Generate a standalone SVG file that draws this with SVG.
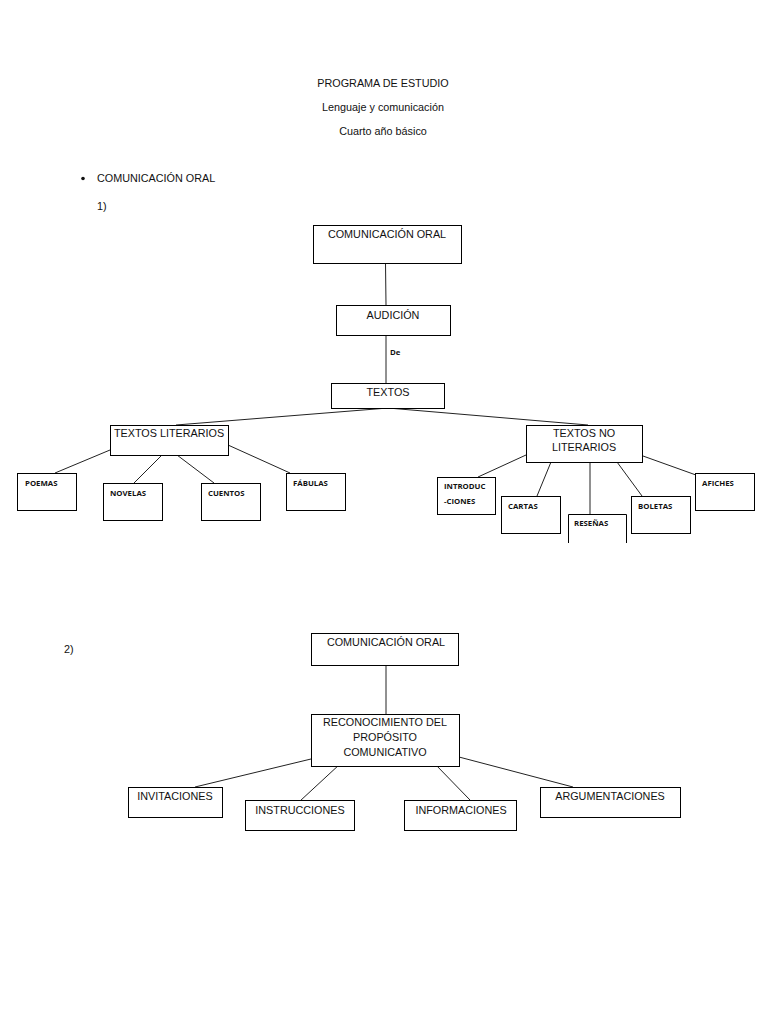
<svg xmlns="http://www.w3.org/2000/svg" width="768" height="1024" viewBox="0 0 768 1024">
<style>
.t{font-family:"Liberation Sans",Arial,sans-serif;font-size:10.8px;fill:#111}
.c{text-anchor:middle}
.s{font-family:"Open Sans","Liberation Sans",sans-serif;font-size:7.8px;font-weight:700;fill:#111}
.b{fill:#fff;stroke:#000;stroke-width:1}
.l{stroke:#222;stroke-width:1;fill:none}
</style>
<rect width="768" height="1024" fill="#fff"/>
<g id="header">
<text class="t c" x="383" y="87">PROGRAMA DE ESTUDIO</text>
<text class="t c" x="383" y="111">Lenguaje y comunicación</text>
<text class="t c" x="383" y="135">Cuarto año básico</text>
<circle cx="83" cy="178.5" r="1.8" fill="#111"/>
<text class="t" x="97" y="182">COMUNICACIÓN ORAL</text>
<text class="t" x="97" y="210">1)</text>
<text class="t" x="64" y="653">2)</text>
</g>
<g id="connectors">
<line class="l" x1="385.5" y1="263" x2="386" y2="305"/>
<line class="l" x1="386" y1="335" x2="386" y2="383"/>
<line class="l" x1="388" y1="408" x2="176" y2="425"/>
<line class="l" x1="388" y1="408" x2="588" y2="425"/>
<line class="l" x1="110" y1="450" x2="55" y2="473"/>
<line class="l" x1="162" y1="455" x2="134" y2="483"/>
<line class="l" x1="177" y1="455" x2="214" y2="483"/>
<line class="l" x1="228" y1="445" x2="290" y2="473"/>
<line class="l" x1="526" y1="455" x2="478" y2="477"/>
<line class="l" x1="551" y1="462" x2="537" y2="496"/>
<line class="l" x1="590" y1="462" x2="590" y2="514"/>
<line class="l" x1="617" y1="462" x2="642" y2="496"/>
<line class="l" x1="643" y1="456" x2="696" y2="475"/>
<line class="l" x1="386" y1="665" x2="386" y2="714"/>
<line class="l" x1="311" y1="759" x2="195" y2="787"/>
<line class="l" x1="340" y1="764" x2="300" y2="801"/>
<line class="l" x1="435" y1="764" x2="470" y2="800"/>
<line class="l" x1="459" y1="757" x2="573" y2="787"/>
<text class="s" x="390" y="355">De</text>
</g>
<g id="n-com1"><rect class="b" x="313.5" y="225.5" width="148" height="38"/><text class="t c" x="387" y="238">COMUNICACIÓN ORAL</text></g>
<g id="n-audicion"><rect class="b" x="336.5" y="305.5" width="114" height="30"/><text class="t c" x="393" y="319">AUDICIÓN</text></g>
<g id="n-textos"><rect class="b" x="331.5" y="383.5" width="113" height="25"/><text class="t c" x="388" y="396">TEXTOS</text></g>
<g id="n-lit"><rect class="b" x="110.5" y="425.5" width="118" height="30"/><text class="t c" x="169" y="437">TEXTOS LITERARIOS</text></g>
<g id="n-nolit"><rect class="b" x="526.5" y="425.5" width="116" height="37"/><text class="t c" x="584" y="437">TEXTOS NO</text><text class="t c" x="584" y="451">LITERARIOS</text></g>
<g id="n-poemas"><rect class="b" x="17.5" y="473.5" width="59" height="37"/><text class="s" x="25" y="486">POEMAS</text></g>
<g id="n-novelas"><rect class="b" x="103.5" y="483.5" width="59" height="37"/><text class="s" x="110" y="496">NOVELAS</text></g>
<g id="n-cuentos"><rect class="b" x="201.5" y="483.5" width="59" height="37"/><text class="s" x="208" y="496">CUENTOS</text></g>
<g id="n-fabulas"><rect class="b" x="286.5" y="473.5" width="59" height="37"/><text class="s" x="293" y="486">FÁBULAS</text></g>
<g id="n-intro"><rect class="b" x="437.5" y="477.5" width="58" height="37"/><text class="s" x="444" y="489">INTRODUC</text><text class="s" x="444" y="504">-CIONES</text></g>
<g id="n-cartas"><rect class="b" x="501.5" y="496.5" width="59" height="37"/><text class="s" x="508" y="509">CARTAS</text></g>
<g id="n-resenas"><path class="b" d="M568.5 543V514.5H626.5V543"/><text class="s" x="574" y="526">RESEÑAS</text></g>
<g id="n-boletas"><rect class="b" x="631.5" y="496.5" width="59" height="37"/><text class="s" x="638" y="509">BOLETAS</text></g>
<g id="n-afiches"><rect class="b" x="695.5" y="473.5" width="59" height="37"/><text class="s" x="702" y="486">AFICHES</text></g>
<g id="n-com2"><rect class="b" x="311.5" y="633.5" width="147" height="32"/><text class="t c" x="386" y="646">COMUNICACIÓN ORAL</text></g>
<g id="n-recon"><rect class="b" x="311.5" y="714.5" width="148" height="52"/><text class="t c" x="385" y="726">RECONOCIMIENTO DEL</text><text class="t c" x="385" y="741">PROPÓSITO</text><text class="t c" x="385" y="756">COMUNICATIVO</text></g>
<g id="n-invit"><rect class="b" x="128.5" y="787.5" width="94" height="30"/><text class="t c" x="175" y="800">INVITACIONES</text></g>
<g id="n-instr"><rect class="b" x="245.5" y="800.5" width="109" height="30"/><text class="t c" x="300" y="814">INSTRUCCIONES</text></g>
<g id="n-inform"><rect class="b" x="404.5" y="800.5" width="112" height="30"/><text class="t c" x="461" y="814">INFORMACIONES</text></g>
<g id="n-argum"><rect class="b" x="540.5" y="787.5" width="140" height="30"/><text class="t c" x="610" y="800">ARGUMENTACIONES</text></g>
</svg>
